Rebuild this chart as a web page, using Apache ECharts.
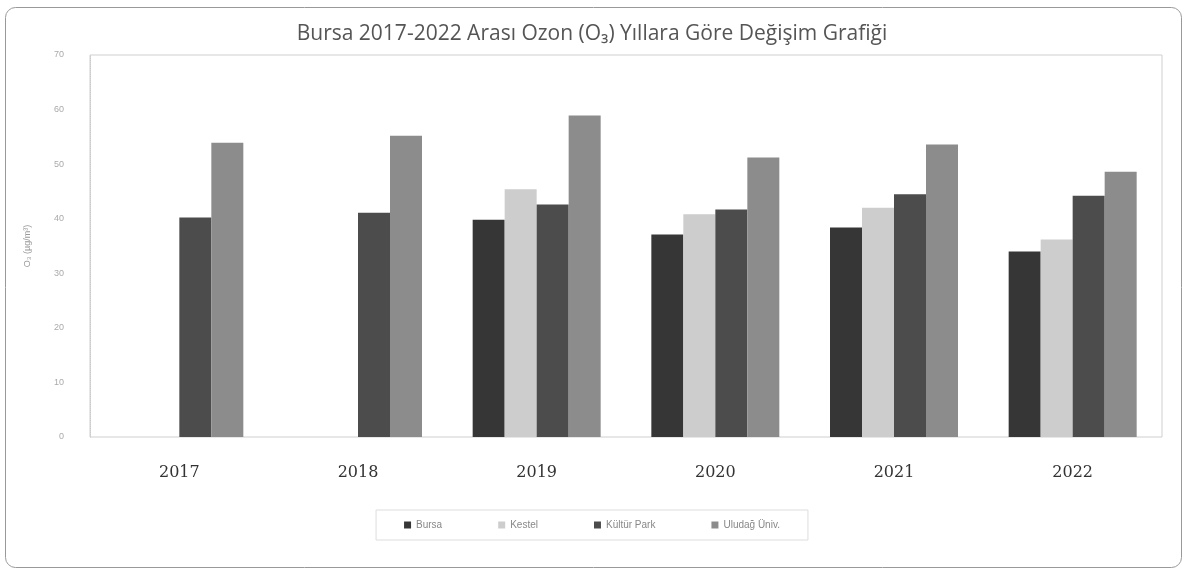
<!DOCTYPE html>
<html>
<head>
<meta charset="utf-8">
<script src="https://cdn.jsdelivr.net/npm/echarts@6/dist/echarts.min.js"></script>
<style>
  html, body { margin: 0; padding: 0; background: #fff; }
  #chart { width: 1184px; height: 570px; }
</style>
</head>
<body>
<div id="chart"></div>
<script>
// yıllar ve istasyonlar
const years = ['2017', '2018', '2019', '2020', '2021', '2022'];
const stations = ['Bursa', 'Kestel', 'Kültür Park', 'Uludağ Üniv.'];

// O3 ortalamaları (µg/m³)
const bursa = [null, null, 39.8, 37.1, 38.4, 34.0];
const kestel = [null, null, 45.4, 40.8, 42.0, 36.2];
const kulturPark = [40.2, 41.1, 42.6, 41.7, 44.5, 44.2];
const uludag = [53.9, 55.2, 58.9, 51.2, 53.6, 48.6];

const yTicks = [0, 10, 20, 30, 40, 50, 60, 70];

const seriesData = [bursa, kestel, kulturPark, uludag];
const colors = ['#363636', '#cdcdcd', '#4c4c4c', '#8c8c8c'];

const chart = echarts.init(document.getElementById('chart'));
chart.setOption({
  animation: false,
  color: colors,
  title: {
    text: 'Bursa 2017-2022 Arası Ozon (O₃) Yıllara Göre Değişim Grafiği',
    left: 'center', top: 19,
    textStyle: { fontFamily: 'Open Sans', fontSize: 21, fontWeight: 'normal', color: '#555' }
  },
  graphic: [{
    type: 'rect', left: 3, top: 5, silent: true,
    shape: { width: 1176, height: 560, r: 10 },
    style: { fill: 'none', stroke: '#999', lineWidth: 1 }
  }],
  legend: {
    data: stations, bottom: 30, left: 'center',
    itemWidth: 7, itemHeight: 7, itemGap: 56, icon: 'rect',
    padding: [10, 28],
    borderColor: '#ddd', borderWidth: 1,
    textStyle: { fontSize: 10, color: '#888', fontFamily: 'Liberation Sans' }
  },
  grid: {
    left: 90, right: 22, top: 55, bottom: 133,
    show: true, borderColor: '#cfcfcf', borderWidth: 1
  },
  xAxis: {
    type: 'category', data: years,
    axisLine: { show: false }, axisTick: { show: false },
    axisLabel: { margin: 28, fontSize: 16, color: '#333', fontFamily: 'DejaVu Serif' }
  },
  yAxis: {
    type: 'value', min: yTicks[0], max: yTicks[yTicks.length - 1], interval: 10,
    name: 'O₃ (µg/m³)', nameLocation: 'middle', nameRotate: 90, nameGap: 58,
    nameTextStyle: { fontSize: 9, color: '#999' },
    axisLine: { show: true, lineStyle: { color: '#ccc', type: 'dotted' } },
    axisTick: { show: false },
    splitLine: { show: false },
    axisLabel: { fontSize: 9, color: '#aaa', margin: 26 }
  },
  series: stations.map((name, i) => ({
    name, type: 'bar', data: seriesData[i],
    barWidth: 32, barGap: '0%'
  }))
});
</script>
</body>
</html>
